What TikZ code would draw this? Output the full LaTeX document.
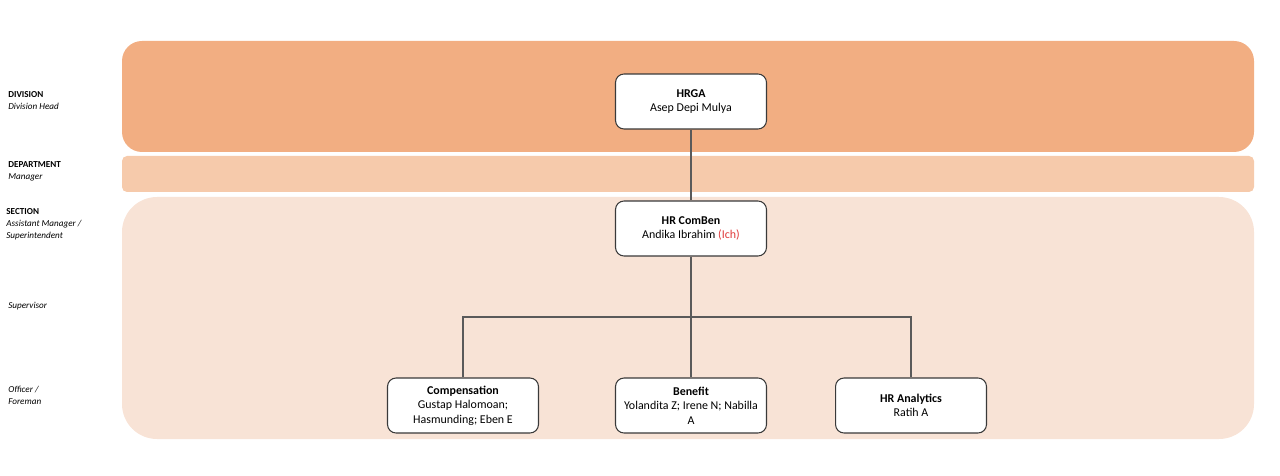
\documentclass[tikz,border=0pt]{standalone}
\usepackage{fontspec}
\setmainfont{Carlito}
\usetikzlibrary{positioning}

\definecolor{divband}{HTML}{F2AE82}
\definecolor{depband}{HTML}{F6CAAB}
\definecolor{secband}{HTML}{F8E3D6}
\definecolor{boxline}{HTML}{3A3A3A}
\definecolor{linkline}{HTML}{5A5A5A}
\definecolor{nickred}{HTML}{E03A3A}

\tikzset{
    posbox/.style={draw=boxline,fill=white,rounded corners=0.17cm,line width=0.6pt,
        minimum width=3.02cm,minimum height=1.1cm,align=center,inner sep=1pt,
        font=\fontsize{6.8}{8.2}\selectfont},
    link/.style={draw=linkline,line width=0.6pt},
    levelname/.style={anchor=west,align=left,inner sep=0pt,
        font=\fontsize{5.2}{6.8}\selectfont}
}

\begin{document}
\begin{tikzpicture}[x=0.02cm,y=-0.02cm]
    \useasboundingbox (0,0) rectangle (1280,476);

    % level bands
    \fill[divband,rounded corners=0.4cm] (122,41) rectangle (1254,152);
    \fill[depband,rounded corners=0.1cm] (122,156) rectangle (1254,192);
    \fill[secband,rounded corners=0.7cm] (122,197) rectangle (1254,439);

    % level names on the left
    \node[levelname] (lvdiv) at (8,101) {\textbf{DIVISION}\\\textit{Division Head}};
    \node[levelname] (lvdep) at (8,171) {\textbf{DEPARTMENT}\\\textit{Manager}};
    \node[levelname] (lvsec) at (6,224) {\textbf{SECTION}\\\textit{Assistant Manager /}\\\textit{Superintendent}};
    \node[levelname] (lvsup) at (8,306) {\textit{Supervisor}};
    \node[levelname] (lvoff) at (8,395) {\textit{Officer /}\\\textit{Foreman}};

    % division head
    \node[posbox] (hrga) at (691,101.5) {\textbf{HRGA}\\Asep Depi Mulya};

    % section
    \node[posbox] (comben) at (691,228.5) {\textbf{HR ComBen}\\Andika Ibrahim \textcolor{nickred}{(Ich)}};

    % officers
    \node[posbox] (benefit) at (691,405.5) {\textbf{Benefit}\\Yolandita Z; Irene N; Nabilla\\A};
    \node[posbox,node distance=1.52cm,left=of benefit] (comp) {\textbf{Compensation}\\Gustap Halomoan;\\Hasmunding; Eben E};
    \node[posbox,node distance=1.36cm,right=of benefit] (analytics) {\textbf{HR Analytics}\\Ratih A};

    % connectors
    \coordinate (split) at (691,317);
    \draw[link] (hrga) -- (comben);
    \draw[link] (comben) -- (split);
    \draw[link] (split) -| (comp.north);
    \draw[link] (split) -- (benefit.north);
    \draw[link] (split) -| (analytics.north);
\end{tikzpicture}
\end{document}
